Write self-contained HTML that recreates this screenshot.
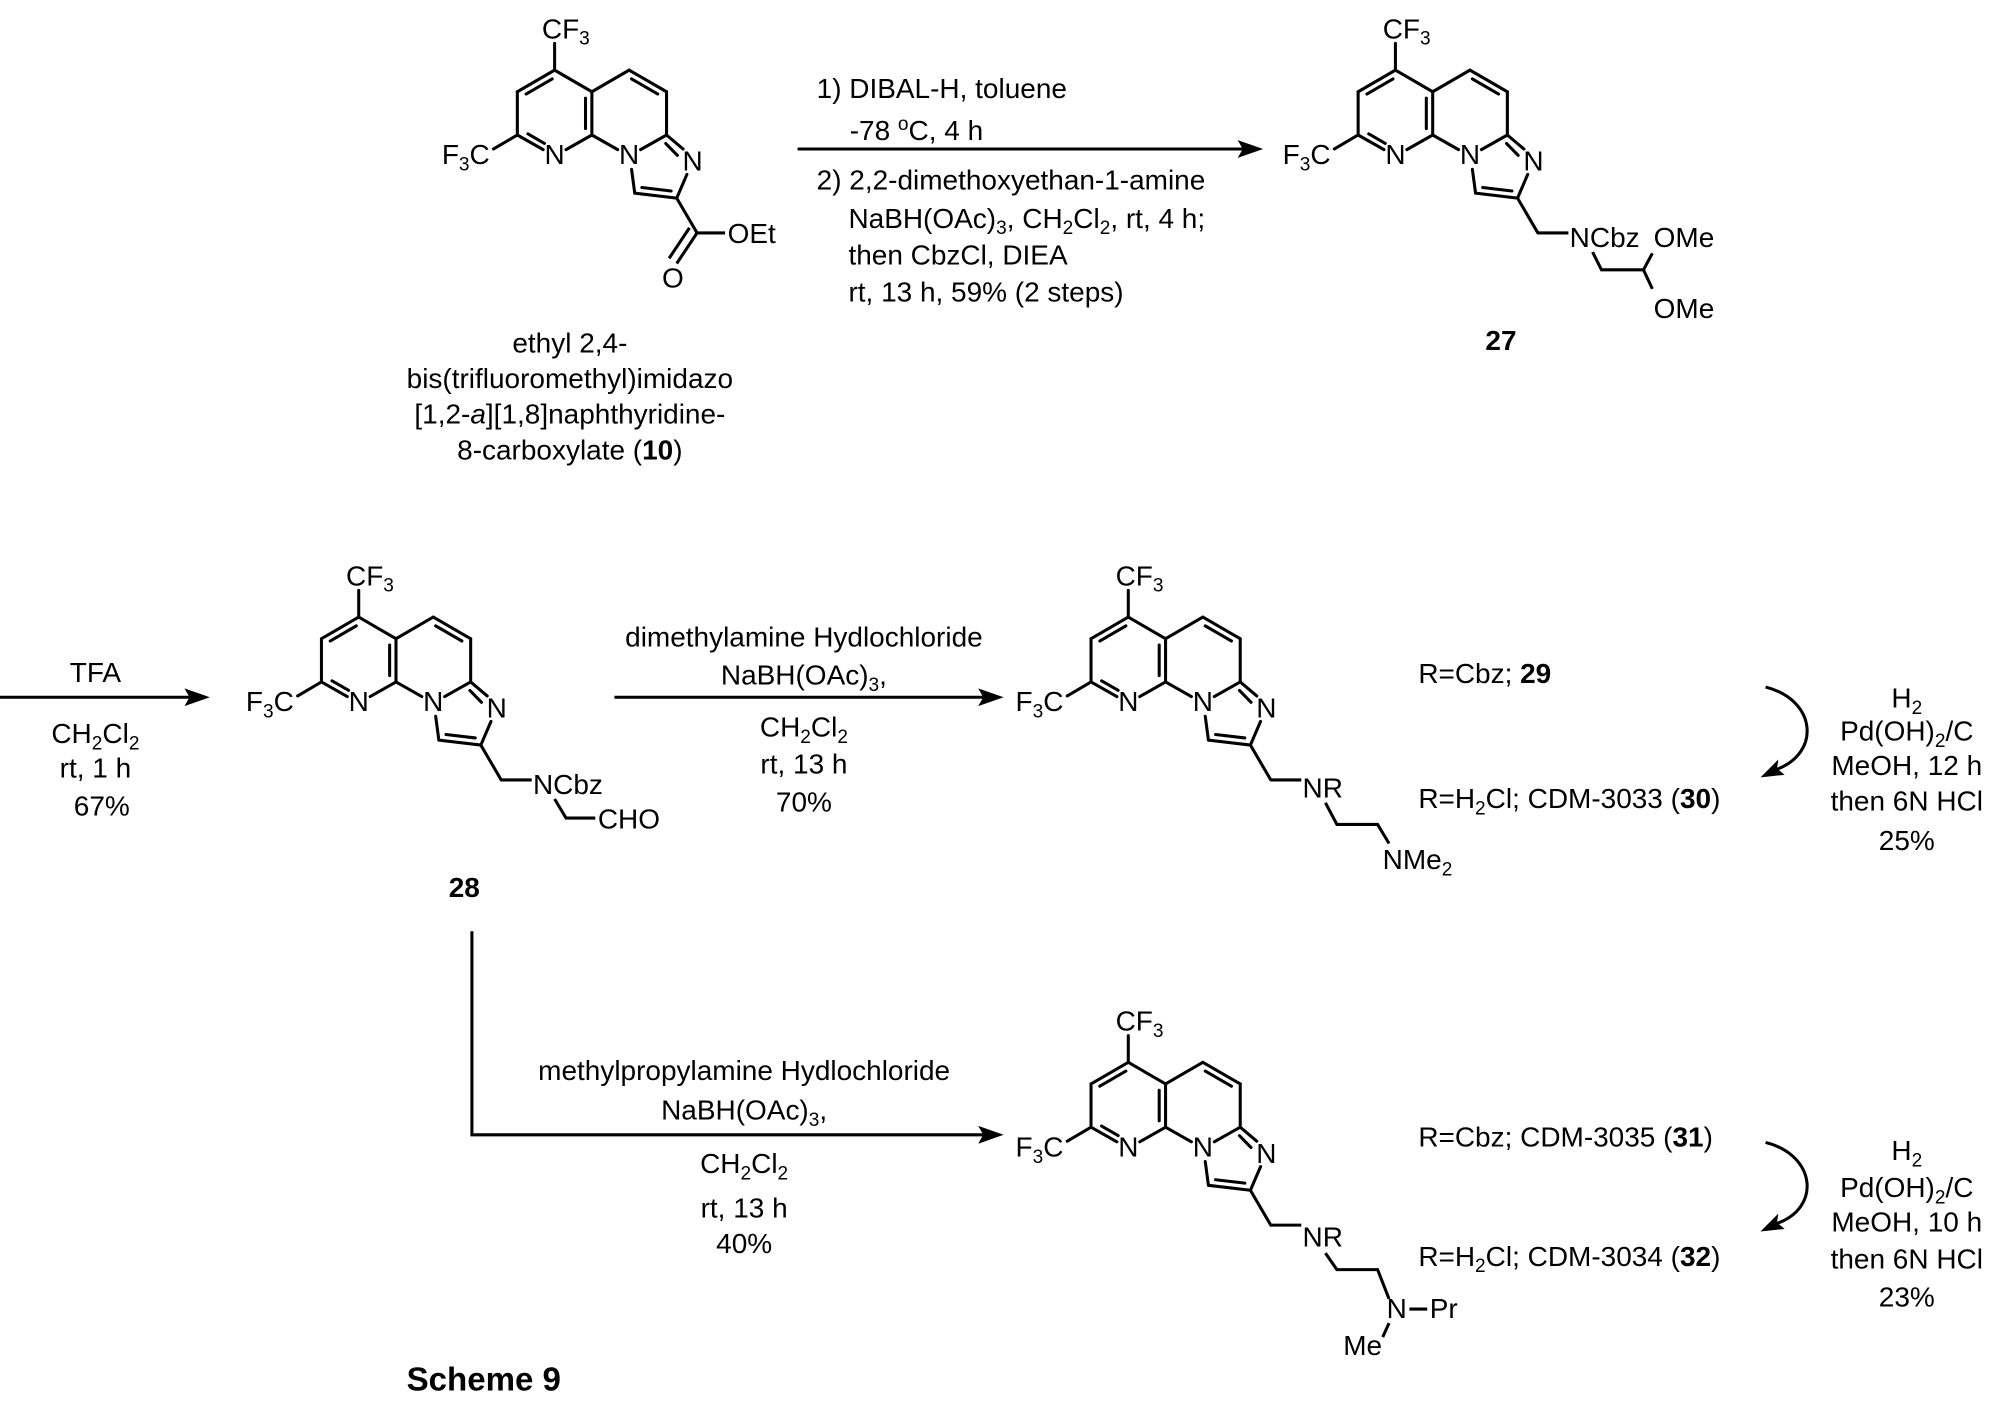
<!DOCTYPE html>
<html><head><meta charset="utf-8"><style>
html,body{margin:0;padding:0;background:#fff;}
svg{display:block;}
text{font-family:"Liberation Sans",Arial,sans-serif;font-size:22px;fill:#000;}
.b{font-weight:bold;}
</style></head><body>
<svg width="1992" height="1411" viewBox="0 0 1566 1109" xmlns="http://www.w3.org/2000/svg">
<defs>
<g id="core" stroke="#000" stroke-width="2.4" fill="none" stroke-linecap="round">
<line x1="0" y1="0" x2="0" y2="-21"/>
<line x1="0" y1="0" x2="-29.3" y2="17"/>
<line x1="-1.9" y1="6.9" x2="-22.4" y2="18.8"/>
<line x1="-29.3" y1="17" x2="-29.3" y2="51"/>
<line x1="-29.3" y1="51" x2="-48" y2="62"/>
<line x1="-29.3" y1="51" x2="-9" y2="62.5"/>
<line x1="-21" y1="50.1" x2="-8" y2="57.6"/>
<line x1="9" y1="62.5" x2="29.3" y2="51"/>
<line x1="29.3" y1="51" x2="29.3" y2="17"/>
<line x1="24.3" y1="22" x2="24.3" y2="46"/>
<line x1="29.3" y1="17" x2="0" y2="0"/>
<line x1="29.3" y1="17" x2="58.6" y2="0"/>
<line x1="58.6" y1="0" x2="88" y2="17"/>
<line x1="60.5" y1="6.9" x2="81.1" y2="18.8"/>
<line x1="88" y1="17" x2="88" y2="51"/>
<line x1="88" y1="51" x2="67.6" y2="62.5"/>
<line x1="29.3" y1="51" x2="49.6" y2="62.5"/>
<line x1="88" y1="51" x2="101" y2="62"/>
<line x1="87.4" y1="57.7" x2="96.5" y2="67"/>
<line x1="104" y1="82" x2="96" y2="100.6"/>
<line x1="96" y1="100.6" x2="63" y2="96.7"/>
<line x1="91.6" y1="95" x2="68.6" y2="92.3"/>
<line x1="63" y1="96.7" x2="60.5" y2="78"/>
<line x1="96" y1="100.6" x2="112" y2="128"/>
</g>
</defs>

<!-- Molecule 10 -->
<g transform="translate(436,55)">
<use href="#core"/>
<g stroke="#000" stroke-width="2.4" fill="none">
<line x1="112" y1="128" x2="96" y2="152"/>
<line x1="106" y1="124" x2="90" y2="148"/>
<line x1="112" y1="128" x2="134" y2="128"/>
</g>
<text x="-10" y="-25">CF<tspan font-size="15" dy="5">3</tspan></text>
<text x="-51" y="74" text-anchor="end">F<tspan font-size="15" dy="5">3</tspan><tspan dy="-5">C</tspan></text>
<text x="0" y="74" text-anchor="middle">N</text>
<text x="58.6" y="74" text-anchor="middle">N</text>
<text x="108.5" y="79" text-anchor="middle">N</text>
<text x="93" y="171" text-anchor="middle">O</text>
<text x="136" y="136">OEt</text>
</g>
<text x="448" y="277" text-anchor="middle">ethyl 2,4-</text>
<text x="448" y="305" text-anchor="middle">bis(trifluoromethyl)imidazo</text>
<text x="448" y="333" text-anchor="middle">[1,2-<tspan font-style="italic">a</tspan>][1,8]naphthyridine-</text>
<text x="448" y="361" text-anchor="middle">8-carboxylate (<tspan class="b">10</tspan>)</text>

<!-- Arrow 1 -->
<line x1="627" y1="117" x2="980" y2="117" stroke="#000" stroke-width="2.4"/>
<polygon points="993,117 973,110 977,117 973,124" fill="#000"/>
<text x="642" y="77">1) DIBAL-H, toluene</text>
<text x="668" y="110">-78 <tspan font-size="15" dy="-8">o</tspan><tspan dy="8">C, 4 h</tspan></text>
<text x="642" y="149">2) 2,2-dimethoxyethan-1-amine</text>
<text x="667" y="179">NaBH(OAc)<tspan font-size="15" dy="5">3</tspan><tspan dy="-5">, CH</tspan><tspan font-size="15" dy="5">2</tspan><tspan dy="-5">Cl</tspan><tspan font-size="15" dy="5">2</tspan><tspan dy="-5">, rt, 4 h;</tspan></text>
<text x="667" y="208">then CbzCl, DIEA</text>
<text x="667" y="237">rt, 13 h, 59% (2 steps)</text>

<!-- Molecule 27 -->
<g transform="translate(1097,55)">
<use href="#core"/>
<g stroke="#000" stroke-width="2.4" fill="none">
<line x1="112" y1="128" x2="136" y2="128"/>
<polyline points="155,143 162,157 195,157 202,144"/>
<line x1="195" y1="157" x2="202" y2="172"/>
</g>
<text x="-10" y="-25">CF<tspan font-size="15" dy="5">3</tspan></text>
<text x="-51" y="74" text-anchor="end">F<tspan font-size="15" dy="5">3</tspan><tspan dy="-5">C</tspan></text>
<text x="0" y="74" text-anchor="middle">N</text>
<text x="58.6" y="74" text-anchor="middle">N</text>
<text x="108.5" y="79" text-anchor="middle">N</text>
<text x="137" y="139">NCbz</text>
<text x="203" y="139">OMe</text>
<text x="203" y="195">OMe</text>
</g>
<text x="1180" y="275" text-anchor="middle" class="b">27</text>

<!-- TFA arrow -->
<line x1="0" y1="548" x2="152" y2="548" stroke="#000" stroke-width="2.4"/>
<polygon points="165,548 145,541 149,548 145,555" fill="#000"/>
<text x="75" y="536" text-anchor="middle">TFA</text>
<text x="75" y="584" text-anchor="middle">CH<tspan font-size="15" dy="5">2</tspan><tspan dy="-5">Cl</tspan><tspan font-size="15" dy="5">2</tspan></text>
<text x="75" y="611" text-anchor="middle">rt, 1 h</text>
<text x="80" y="641" text-anchor="middle">67%</text>

<!-- Molecule 28 -->
<g transform="translate(282,485)">
<use href="#core"/>
<g stroke="#000" stroke-width="2.4" fill="none">
<line x1="112" y1="128" x2="136" y2="128"/>
<polyline points="154,143 163,158 186,158"/>
</g>
<text x="-10" y="-25">CF<tspan font-size="15" dy="5">3</tspan></text>
<text x="-51" y="74" text-anchor="end">F<tspan font-size="15" dy="5">3</tspan><tspan dy="-5">C</tspan></text>
<text x="0" y="74" text-anchor="middle">N</text>
<text x="58.6" y="74" text-anchor="middle">N</text>
<text x="108.5" y="79" text-anchor="middle">N</text>
<text x="137" y="139">NCbz</text>
<text x="188" y="166">CHO</text>
</g>
<text x="365" y="705" text-anchor="middle" class="b">28</text>

<!-- Arrow 2 -->
<line x1="483" y1="548" x2="776" y2="548" stroke="#000" stroke-width="2.4"/>
<polygon points="789,548 769,541 773,548 769,555" fill="#000"/>
<text x="632" y="508" text-anchor="middle">dimethylamine Hydlochloride</text>
<text x="632" y="538" text-anchor="middle">NaBH(OAc)<tspan font-size="15" dy="5">3</tspan><tspan dy="-5">,</tspan></text>
<text x="632" y="579" text-anchor="middle">CH<tspan font-size="15" dy="5">2</tspan><tspan dy="-5">Cl</tspan><tspan font-size="15" dy="5">2</tspan></text>
<text x="632" y="608" text-anchor="middle">rt, 13 h</text>
<text x="632" y="638" text-anchor="middle">70%</text>

<!-- Molecule 29 -->
<g transform="translate(887,485)">
<use href="#core"/>
<g stroke="#000" stroke-width="2.4" fill="none">
<line x1="112" y1="128" x2="136" y2="128"/>
<polyline points="155,146 164,163 196,163 205,178"/>
</g>
<text x="-10" y="-25">CF<tspan font-size="15" dy="5">3</tspan></text>
<text x="-51" y="74" text-anchor="end">F<tspan font-size="15" dy="5">3</tspan><tspan dy="-5">C</tspan></text>
<text x="0" y="74" text-anchor="middle">N</text>
<text x="58.6" y="74" text-anchor="middle">N</text>
<text x="108.5" y="79" text-anchor="middle">N</text>
<text x="137" y="142">NR</text>
<text x="200" y="198">NMe<tspan font-size="15" dy="5">2</tspan></text>
</g>
<text x="1115" y="537">R=Cbz; <tspan class="b">29</tspan></text>
<text x="1115" y="635">R=H<tspan font-size="15" dy="5">2</tspan><tspan dy="-5">Cl; CDM-3033 (</tspan><tspan class="b">30</tspan>)</text>
<path d="M1388,540 C1428,550 1432,592 1396,605" stroke="#000" stroke-width="2.4" fill="none"/>
<polygon points="1384,611 1398,597 1397,604 1403,609" fill="#000"/>
<text x="1499" y="556" text-anchor="middle">H<tspan font-size="15" dy="5">2</tspan></text>
<text x="1499" y="582" text-anchor="middle">Pd(OH)<tspan font-size="15" dy="5">2</tspan><tspan dy="-5">/C</tspan></text>
<text x="1499" y="609" text-anchor="middle">MeOH, 12 h</text>
<text x="1499" y="637" text-anchor="middle">then 6N HCl</text>
<text x="1499" y="668" text-anchor="middle">25%</text>

<!-- Branch arrow -->
<polyline points="371,732 371,892 776,892" stroke="#000" stroke-width="2.4" fill="none"/>
<polygon points="789,892 769,885 773,892 769,899" fill="#000"/>
<text x="585" y="849" text-anchor="middle">methylpropylamine Hydlochloride</text>
<text x="585" y="880" text-anchor="middle">NaBH(OAc)<tspan font-size="15" dy="5">3</tspan><tspan dy="-5">,</tspan></text>
<text x="585" y="922" text-anchor="middle">CH<tspan font-size="15" dy="5">2</tspan><tspan dy="-5">Cl</tspan><tspan font-size="15" dy="5">2</tspan></text>
<text x="585" y="957" text-anchor="middle">rt, 13 h</text>
<text x="585" y="985" text-anchor="middle">40%</text>

<!-- Molecule 31 -->
<g transform="translate(887,835)">
<use href="#core"/>
<g stroke="#000" stroke-width="2.4" fill="none">
<line x1="112" y1="128" x2="136" y2="128"/>
<polyline points="155,150 164,163 196,163 205,186"/>
<line x1="221" y1="194" x2="235" y2="194"/>
<line x1="205" y1="205" x2="200" y2="216"/>
</g>
<text x="-10" y="-25">CF<tspan font-size="15" dy="5">3</tspan></text>
<text x="-51" y="74" text-anchor="end">F<tspan font-size="15" dy="5">3</tspan><tspan dy="-5">C</tspan></text>
<text x="0" y="74" text-anchor="middle">N</text>
<text x="58.6" y="74" text-anchor="middle">N</text>
<text x="108.5" y="79" text-anchor="middle">N</text>
<text x="137" y="145">NR</text>
<text x="211" y="201" text-anchor="middle">N</text>
<text x="237" y="201">Pr</text>
<text x="169" y="230">Me</text>
</g>
<text x="1115" y="901">R=Cbz; CDM-3035 (<tspan class="b">31</tspan>)</text>
<text x="1115" y="995">R=H<tspan font-size="15" dy="5">2</tspan><tspan dy="-5">Cl; CDM-3034 (</tspan><tspan class="b">32</tspan>)</text>
<path d="M1388,898 C1428,908 1432,950 1396,962" stroke="#000" stroke-width="2.4" fill="none"/>
<polygon points="1384,968 1398,954 1397,961 1403,966" fill="#000"/>
<text x="1499" y="912" text-anchor="middle">H<tspan font-size="15" dy="5">2</tspan></text>
<text x="1499" y="941" text-anchor="middle">Pd(OH)<tspan font-size="15" dy="5">2</tspan><tspan dy="-5">/C</tspan></text>
<text x="1499" y="968" text-anchor="middle">MeOH, 10 h</text>
<text x="1499" y="997" text-anchor="middle">then 6N HCl</text>
<text x="1499" y="1027" text-anchor="middle">23%</text>

<text x="441" y="1093" text-anchor="end" class="b" style="font-size:26px">Scheme 9</text>
</svg>
</body></html>
